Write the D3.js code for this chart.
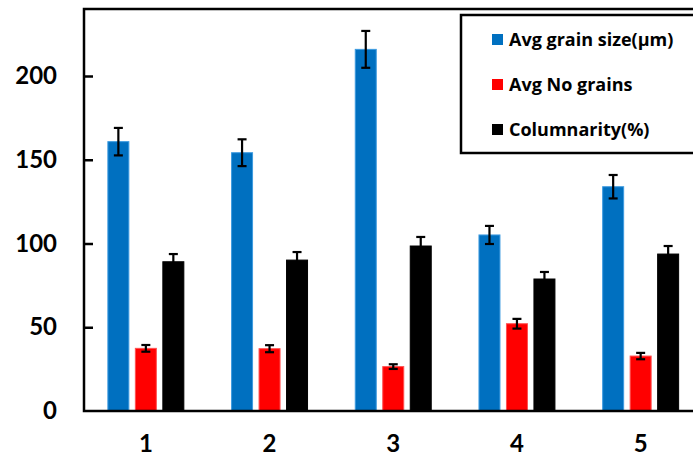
<!DOCTYPE html>
<html>
<head>
<meta charset="utf-8">
<script src="https://cdn.jsdelivr.net/npm/d3@7"></script>
<style>
    body { margin: 0; background: #fff; }
    text { font-weight: bold; fill: #000; }
</style>
</head>
<body>
<div id="chart"></div>
<script>
var categories = ['1', '2', '3', '4', '5'];
var seriesNames = ['Avg grain size(\u03bcm)', 'Avg No grains', 'Columnarity(%)'];
var grainSize = [160.8, 154.2, 215.9, 105.1, 133.9];
var grainSizeErr = [8.2, 8.0, 11.0, 5.4, 7.0];
var noGrains = [37.4, 37.2, 26.5, 52.1, 32.8];
var noGrainsErr = [2.0, 2.1, 1.4, 2.9, 1.9];
var columnarity = [89.1, 90.1, 98.5, 78.8, 93.7];
var columnarityErr = [4.6, 4.8, 5.4, 4.2, 4.8];
var yTicks = [0, 50, 100, 150, 200];

var colors = ['#0070c0', '#ff0000', '#000000'];
var edgeColors = ['#3d9be0', '#ff5050', '#000000'];
var values = [grainSize, noGrains, columnarity];
var errors = [grainSizeErr, noGrainsErr, columnarityErr];

var width = 693, height = 459;
var margin = { top: 9, left: 84, bottom: 48 };
var plotRight = 702.5;

var svg = d3.select('#chart').append('svg')
    .attr('width', width)
    .attr('height', height);

svg.append('rect').attr('width', width).attr('height', height).attr('fill', '#fff');

var x0 = d3.scaleBand()
    .domain(categories)
    .range([margin.left, plotRight]);

var x1 = d3.scaleBand()
    .domain(d3.range(seriesNames.length))
    .range([0, x0.bandwidth()])
    .paddingInner(0.2)
    .paddingOuter(0.85);

var y = d3.scaleLinear()
    .domain([0, 240])
    .range([height - margin.bottom, margin.top]);

// bars
var groups = svg.selectAll('g.group')
    .data(categories)
    .enter().append('g')
    .attr('class', 'group')
    .attr('transform', function(d) { return 'translate(' + x0(d) + ',0)'; });

groups.each(function(cat, ci) {
    var g = d3.select(this);
    seriesNames.forEach(function(name, si) {
        var v = values[si][ci];
        var e = errors[si][ci];
        var bx = x1(si);
        var bw = x1.bandwidth();
        g.append('rect')
            .attr('x', bx + 0.5)
            .attr('y', y(v))
            .attr('width', bw - 1)
            .attr('height', y(0) - y(v))
            .attr('fill', colors[si])
            .attr('stroke', edgeColors[si])
            .attr('stroke-width', 1);

        var cx = bx + bw / 2;
        var capW = 4.5;
        g.append('line')
            .attr('x1', cx).attr('x2', cx)
            .attr('y1', y(v - e)).attr('y2', y(v + e))
            .attr('stroke', '#000').attr('stroke-width', 2.2);
        [v - e, v + e].forEach(function(cv) {
            g.append('line')
                .attr('x1', cx - capW).attr('x2', cx + capW)
                .attr('y1', y(cv)).attr('y2', y(cv))
                .attr('stroke', '#000').attr('stroke-width', 2.2);
        });
    });
});

// axes
var yAxis = d3.axisRight(y)
    .tickValues(yTicks)
    .tickSize(9)
    .tickFormat(d3.format('d'));

var yG = svg.append('g')
    .attr('transform', 'translate(' + margin.left + ',0)')
    .call(yAxis);
yG.select('.domain').remove();
yG.selectAll('.tick line').attr('stroke', '#000').attr('stroke-width', 2.5);
yG.selectAll('.tick text')
    .attr('x', -27)
    .attr('text-anchor', 'end')
    .style('font-size', '24px')
    .style('font-family', 'Lato, sans-serif')
    .attr('fill', '#000');
yG.select('.tick:first-of-type line').remove();

var xAxis = d3.axisBottom(x0).tickSize(0).tickPadding(24);
var xG = svg.append('g')
    .attr('transform', 'translate(0,' + y(0) + ')')
    .call(xAxis);
xG.select('.domain').remove();
xG.selectAll('.tick text')
    .style('font-size', '24px')
    .style('font-family', 'Lato, sans-serif')
    .attr('fill', '#000');

// plot frame
svg.append('path')
    .attr('d', 'M' + plotRight + ',' + y(0) + 'H' + margin.left + 'V' + margin.top + 'H' + plotRight)
    .attr('fill', 'none')
    .attr('stroke', '#000')
    .attr('stroke-width', 2.5);

// legend
var legend = svg.append('g').attr('transform', 'translate(461,15)');
legend.append('rect')
    .attr('width', 240)
    .attr('height', 138)
    .attr('fill', '#fff')
    .attr('stroke', '#000')
    .attr('stroke-width', 2.5);

var items = legend.selectAll('g.item')
    .data(seriesNames)
    .enter().append('g')
    .attr('class', 'item')
    .attr('transform', function(d, i) { return 'translate(31,' + (25 + i * 45) + ')'; });

items.append('rect')
    .attr('x', 0).attr('y', -6)
    .attr('width', 11).attr('height', 11)
    .attr('fill', function(d, i) { return colors[i]; });

items.append('text')
    .attr('x', 17)
    .attr('dy', '0.35em')
    .style('font-size', '18px')
    .style('font-family', '"Open Sans", sans-serif')
    .text(function(d) { return d; });
</script>
</body>
</html>
